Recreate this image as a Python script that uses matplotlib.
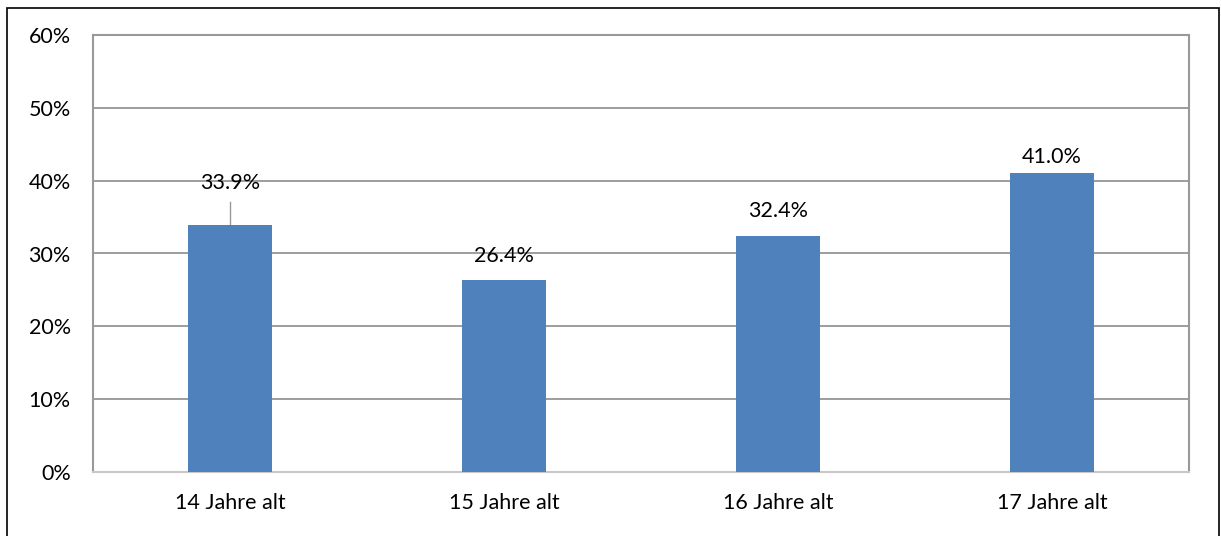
import matplotlib.pyplot as plt
import matplotlib.patches as patches
import numpy as np

plt.rcParams['font.family'] = ['Lato', 'DejaVu Sans']

categories = ['14 Jahre alt', '15 Jahre alt', '16 Jahre alt', '17 Jahre alt']
values = [33.9, 26.4, 32.4, 41.0]
labels = ['33.9%', '26.4%', '32.4%', '41.0%']

fig = plt.figure(figsize=(12.21, 5.36), dpi=100)
ax = fig.add_axes([93/1221, 64/536, 1096/1221, 437/536])

x = np.arange(len(categories))
ax.bar(x, values, width=0.31, color='#4F81BD', zorder=3)

ax.set_xlim(-0.5, 3.5)
ax.set_ylim(0, 60)
ax.set_yticks(range(0, 61, 10))
ax.set_yticklabels([f'{v}%' for v in range(0, 61, 10)], fontsize=15.5)
ax.set_xticks(x)
ax.set_xticklabels(categories, fontsize=15.5)
ax.tick_params(axis='both', length=0)
ax.tick_params(axis='y', pad=16)
ax.tick_params(axis='x', pad=15)
ax.grid(axis='y', color='#8c8c8c', linewidth=1.2, zorder=0)

for s in ['top', 'right', 'left']:
    ax.spines[s].set_color('#999999')
    ax.spines[s].set_linewidth(1.5)
ax.spines['bottom'].set_color('#c8c8c8')
ax.spines['bottom'].set_linewidth(1.5)

# data labels; first one sits higher with a leader line
offsets = [5.8, 3.3, 3.4, 2.2]
for i, (v, lab) in enumerate(zip(values, labels)):
    ax.text(i, v + offsets[i], lab, ha='center', va='center', fontsize=15.5, zorder=4)
ax.plot([0, 0], [values[0], values[0] + 3.2], color='#999999', linewidth=1, zorder=2)

# outer frame
fig.patches.append(patches.Rectangle((7/1221, -0.05), 1212/1221, 1.05 - 8/536,
                                     transform=fig.transFigure, fill=False,
                                     edgecolor='black', linewidth=1.2))

fig.savefig('out.png', dpi=100)
